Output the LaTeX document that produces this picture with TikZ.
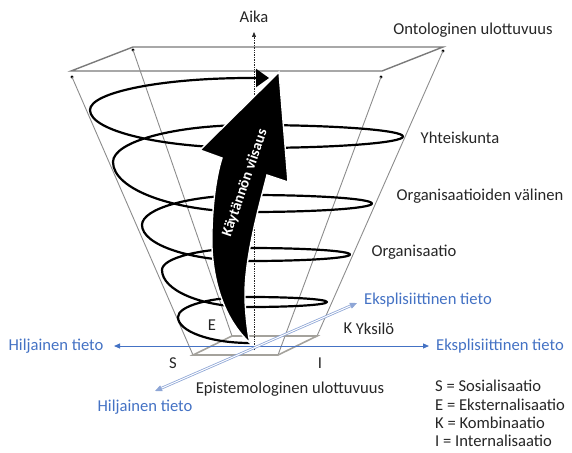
\documentclass[tikz,border=0pt]{standalone}
\usepackage{fontspec}
\setmainfont{Carlito}
\usetikzlibrary{arrows.meta}
\definecolor{txt}{HTML}{262626}
\definecolor{blu}{HTML}{4472C4}
\definecolor{blul}{HTML}{8EA6D6}
\definecolor{edgec}{HTML}{8C8C8C}
\definecolor{topc}{HTML}{7A7A7A}
\definecolor{basec}{HTML}{A4A29C}
\begin{document}
\begin{tikzpicture}[x=1pt,y=-1pt,
  lab/.style={font=\fontsize{16.6}{19}\selectfont, text=txt, inner sep=0pt},
  blab/.style={lab, text=blu},
  fedge/.style={draw=edgec, line width=0.9pt},
  ftop/.style={draw=topc, line width=1.4pt},
  fbase/.style={draw=basec, line width=1.6pt},
  cornerdot/.style={circle, fill=black, inner sep=0pt, minimum size=3.2pt},
  spiral/.style={draw=black, line width=2.2pt, line join=round},
  bigarrow/.style={fill=black, draw=white, line width=1.4pt, line join=miter},
  axis/.style={draw=blu, line width=1pt, {Triangle[length=6pt,width=5pt]}-{Triangle[length=6pt,width=5pt]}},
  daxis/.style={draw=blul, line width=0.8pt, double=white, double distance=1pt, {Triangle[length=7pt,width=6pt]}-{Triangle[length=7pt,width=6pt]}},
  timeaxis/.style={draw=txt, line width=0.7pt, densely dotted, -{Triangle[length=5pt,width=4pt]}}]
\useasboundingbox (0,0) rectangle (572,452);

% frustum corners
\coordinate (tfl) at (71,71);
\coordinate (tfr) at (382,71);
\coordinate (tbl) at (133,47);
\coordinate (tbr) at (443,47);
\coordinate (bfl) at (193,355);
\coordinate (bfr) at (278,355);
\coordinate (bbl) at (232,336);
\coordinate (bbr) at (317,336);
\node[cornerdot] (dfl) at (72,77) {};
\node[cornerdot] (dbl) at (133,50) {};
\node[cornerdot] (dfr) at (381,77) {};
\node[cornerdot] (dbr) at (443,51) {};

\draw[ftop] (tfl) -- (tfr) -- (tbr) -- (tbl) -- cycle;
\draw[fedge] (dfl.center) -- (bfl);
\draw[fedge] (dbl.center) -- (bbl);
\draw[fedge] (dfr.center) -- (bfr);
\draw[fedge] (dbr.center) -- (bbr);
\draw[fbase] (bfl) -- (bfr) -- (bbr) -- (bbl) -- cycle;

% time axis
\coordinate (tbot) at (254,350);
\coordinate (ttop) at (254,32);
\draw[timeaxis] (tbot) -- (ttop);

% spiral
\draw[spiral, -{Triangle[length=13pt,width=18pt]}] (250,343)
 .. controls (210.2,343) and (178,331.4) .. (178,317)
 .. controls (178,306) and (210.2,297) .. (250,297)
 .. controls (292.5,297) and (327,299.2) .. (327,302)
 .. controls (327,304.8) and (292.5,307) .. (250,307)
 .. controls (201.4,307) and (162,290.4) .. (162,270)
 .. controls (162,257.8) and (201.4,248) .. (250,248)
 .. controls (305.2,248) and (350,250.9) .. (350,254.5)
 .. controls (350,258.1) and (305.2,261) .. (250,261)
 .. controls (190.4,261) and (142,244.9) .. (142,225)
 .. controls (142,208.4) and (190.4,195) .. (250,195)
 .. controls (317.4,195) and (372,198.8) .. (372,203.5)
 .. controls (372,208.2) and (317.4,212) .. (250,212)
 .. controls (174.3,212) and (113,189.6) .. (113,162)
 .. controls (113,141.6) and (174.3,125) .. (250,125)
 .. controls (334.5,125) and (403,130.1) .. (403,136.5)
 .. controls (403,142.9) and (334.5,148) .. (250,148)
 .. controls (161.6,148) and (90,131) .. (90,110)
 .. controls (90,92.3) and (161.6,78) .. (250,78) -- (269,78);

% big arrow
\draw[bigarrow] (250,343) .. controls (225,320) and (210,280) .. (212,230)
  .. controls (213,195) and (218,170) .. (222,158)
  -- (200,150) -- (279,72) -- (288,182) -- (267,175)
  .. controls (258,210) and (244,260) .. (245,300)
  .. controls (246,320) and (248,335) .. (250,343) -- cycle;
\node[font=\bfseries\fontsize{15}{17}\selectfont, text=white, rotate=71, inner sep=0pt] (kv) at (245,183) {Käytännön viisaus};

% knowledge axes
\coordinate (hl) at (114,346);
\coordinate (er) at (429,346);
\coordinate (hd) at (155,391);
\coordinate (eu) at (357,303);
\draw[axis] (hl) -- (er);
\draw[daxis] (hd) -- (eu);

% labels
\node[lab] (aika) at (254,17) {Aika};
\node[lab] (onto) at (473,30) {Ontologinen ulottuvuus};
\node[lab] (yht) at (460,138) {Yhteiskunta};
\node[lab] (orgv) at (480,196) {Organisaatioiden välinen};
\node[lab] (org) at (414,252) {Organisaatio};
\node[blab] (eks1) at (428,300) {Eksplisiittinen tieto};
\node[lab] (k) at (348,328) {K};
\node[lab] (yks) at (375,329) {Yksilö};
\node[blab] (eks2) at (500,346) {Eksplisiittinen tieto};
\node[blab] (hil1) at (56,346) {Hiljainen tieto};
\node[blab] (hil2) at (145,407) {Hiljainen tieto};
\node[lab] (s) at (173,363) {S};
\node[lab] (i) at (320,363) {I};
\node[lab] (e) at (212,325) {E};
\node[lab] (epi) at (290,389) {Epistemologinen ulottuvuus};
\node[lab, anchor=west] (lgs) at (435,386) {S = Sosialisaatio};
\node[lab, anchor=west] (lge) at (435,405) {E = Eksternalisaatio};
\node[lab, anchor=west] (lgk) at (435,423) {K = Kombinaatio};
\node[lab, anchor=west] (lgi) at (435,441) {I = Internalisaatio};
\end{tikzpicture}
\end{document}
